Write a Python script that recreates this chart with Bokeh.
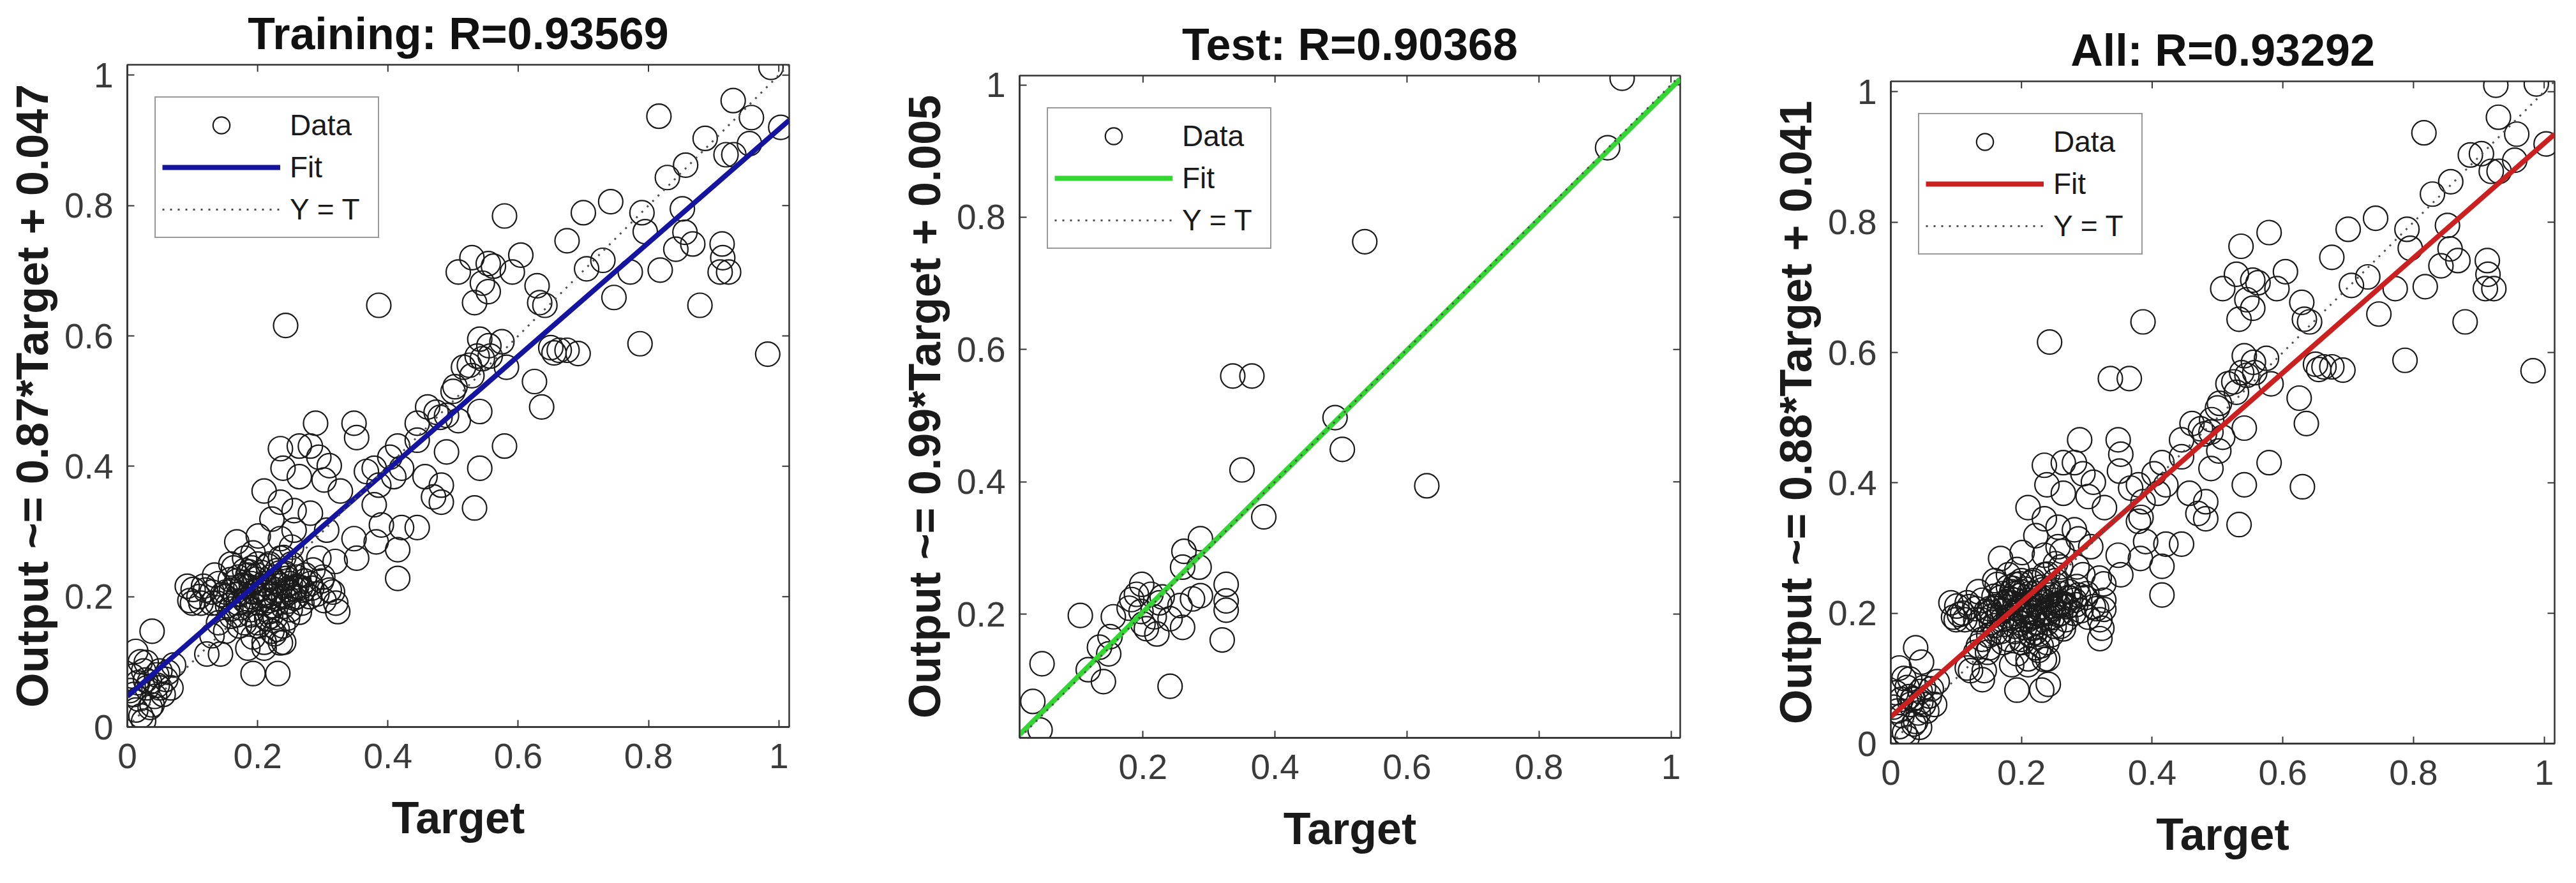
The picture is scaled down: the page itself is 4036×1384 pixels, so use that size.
import math
from bokeh.plotting import figure
from bokeh.models import (Range1d, FixedTicker, CustomJSTickFormatter,
                          Legend, LegendItem, Spacer)
from bokeh.layouts import row, column
from bokeh.embed import file_html
from bokeh.resources import INLINE

# ---------------- data ----------------
train_target = [
    0.988, 0.930, 0.958, 1.003, 0.816, 0.887, 0.919, 0.931, 0.955, 0.857,
    0.829, 0.742, 0.790, 0.700, 0.852, 0.579, 0.795, 0.856, 0.913, 0.868,
    0.675, 0.842, 0.818, 0.772, 0.730, 0.705, 0.914, 0.923, 0.910, 0.747,
    0.879, 0.787, 0.983, 0.604, 0.529, 0.554, 0.562, 0.508, 0.591, 0.533,
    0.545, 0.554, 0.629, 0.633, 0.641, 0.386, 0.243, 0.541, 0.575, 0.650,
    0.663, 0.675, 0.692, 0.655, 0.537, 0.557, 0.582, 0.516, 0.529, 0.625,
    0.503, 0.636, 0.541, 0.461, 0.474, 0.490, 0.508, 0.445, 0.579, 0.490,
    0.541, 0.533, 0.482, 0.470, 0.482, 0.457, 0.445, 0.415, 0.403, 0.421,
    0.409, 0.379, 0.367, 0.386, 0.379, 0.390, 0.421, 0.445, 0.415, 0.382,
    0.415, 0.352, 0.348, 0.319, 0.348, 0.352, 0.289, 0.281, 0.294, 0.310,
    0.302, 0.264, 0.235, 0.239, 0.264, 0.210, 0.235, 0.256, 0.281, 0.306,
    0.327, 0.315, 0.323, 0.302, 0.013, 0.038, 0.004, 0.025, 0.017, 0.021,
    0.013, 0.034, 0.050, 0.050, 0.067, 0.071, 0.029, 0.042, 0.008, 0.059,
    0.038, 0.025, 0.010, 0.030, 0.045, 0.055, 0.020, 0.035, 0.101, 0.096,
    0.117, 0.122, 0.143, 0.151, 0.168, 0.185, 0.193, 0.231, 0.235, 0.222,
    0.201, 0.218, 0.151, 0.168, 0.159, 0.180, 0.168, 0.193, 0.201, 0.218,
    0.235, 0.243, 0.260, 0.273, 0.281, 0.256, 0.268, 0.227, 0.210, 0.193,
    0.180, 0.201, 0.218, 0.239, 0.134, 0.138, 0.130, 0.159, 0.172, 0.193,
    0.210, 0.239, 0.252, 0.256, 0.235, 0.222, 0.252, 0.285, 0.298, 0.294,
    0.113, 0.092, 0.185, 0.206, 0.231, 0.189, 0.227, 0.176, 0.247, 0.160,
    0.170, 0.190, 0.200, 0.210, 0.220, 0.230, 0.240, 0.250, 0.260, 0.180,
    0.190, 0.200, 0.220, 0.230, 0.240, 0.210, 0.170, 0.150, 0.140, 0.260,
    0.270, 0.280, 0.250, 0.190, 0.220, 0.200, 0.180, 0.160, 0.230, 0.240,
    0.210, 0.110, 0.120, 0.100, 0.130, 0.310, 0.320, 0.300, 0.130, 0.140,
    0.525, 0.545, 0.555, 0.500, 0.480, 0.166, 0.177, 0.184, 0.197, 0.204,
    0.213, 0.226, 0.236, 0.244, 0.257, 0.173, 0.187, 0.194, 0.208, 0.216,
    0.224, 0.233, 0.247, 0.253, 0.266, 0.158, 0.171, 0.182, 0.191, 0.199,
    0.211, 0.219, 0.229, 0.242, 0.249, 0.272, 0.283, 0.291, 0.154, 0.146,
    0.163, 0.214, 0.226, 0.246, 0.264, 0.028, 0.046, 0.016, 0.062,
]
train_output = [
    1.012, 0.961, 0.935, 0.920, 0.937, 0.903, 0.878, 0.878, 0.895, 0.862,
    0.843, 0.806, 0.789, 0.789, 0.795, 0.784, 0.760, 0.759, 0.741, 0.741,
    0.746, 0.733, 0.701, 0.698, 0.716, 0.703, 0.720, 0.698, 0.698, 0.659,
    0.647, 0.588, 0.572, 0.724, 0.720, 0.711, 0.707, 0.698, 0.698, 0.651,
    0.681, 0.668, 0.677, 0.651, 0.647, 0.647, 0.616, 0.595, 0.591, 0.582,
    0.578, 0.578, 0.573, 0.574, 0.569, 0.569, 0.552, 0.552, 0.539, 0.530,
    0.522, 0.491, 0.484, 0.491, 0.483, 0.478, 0.470, 0.466, 0.431, 0.422,
    0.397, 0.336, 0.371, 0.353, 0.345, 0.384, 0.440, 0.431, 0.414, 0.397,
    0.384, 0.397, 0.392, 0.371, 0.341, 0.310, 0.306, 0.306, 0.272, 0.284,
    0.228, 0.259, 0.289, 0.254, 0.466, 0.444, 0.466, 0.431, 0.414, 0.401,
    0.379, 0.431, 0.427, 0.397, 0.384, 0.362, 0.345, 0.332, 0.328, 0.302,
    0.362, 0.207, 0.177, 0.194, 0.116, 0.147, 0.056, 0.086, 0.043, 0.017,
    0.026, 0.069, 0.086, 0.060, 0.060, 0.095, 0.099, 0.047, 0.078, 0.073,
    0.034, 0.009, 0.050, 0.060, 0.080, 0.050, 0.100, 0.030, 0.211, 0.194,
    0.216, 0.112, 0.112, 0.147, 0.172, 0.121, 0.082, 0.082, 0.129, 0.147,
    0.155, 0.177, 0.207, 0.224, 0.250, 0.259, 0.284, 0.267, 0.293, 0.250,
    0.259, 0.233, 0.216, 0.233, 0.220, 0.198, 0.190, 0.207, 0.220, 0.207,
    0.194, 0.190, 0.194, 0.185, 0.233, 0.190, 0.207, 0.181, 0.155, 0.138,
    0.121, 0.155, 0.250, 0.302, 0.289, 0.319, 0.276, 0.241, 0.224, 0.259,
    0.190, 0.216, 0.233, 0.237, 0.220, 0.172, 0.168, 0.216, 0.211, 0.210,
    0.190, 0.220, 0.210, 0.190, 0.230, 0.210, 0.200, 0.220, 0.230, 0.240,
    0.180, 0.250, 0.170, 0.240, 0.260, 0.220, 0.230, 0.200, 0.220, 0.200,
    0.210, 0.200, 0.180, 0.200, 0.200, 0.160, 0.160, 0.170, 0.150, 0.130,
    0.130, 0.200, 0.210, 0.190, 0.190, 0.210, 0.190, 0.230, 0.140, 0.160,
    0.555, 0.565, 0.585, 0.515, 0.475, 0.203, 0.218, 0.192, 0.227, 0.213,
    0.206, 0.224, 0.217, 0.228, 0.212, 0.183, 0.238, 0.207, 0.196, 0.247,
    0.186, 0.236, 0.193, 0.243, 0.214, 0.226, 0.204, 0.216, 0.244, 0.233,
    0.202, 0.214, 0.197, 0.236, 0.207, 0.224, 0.213, 0.204, 0.186, 0.203,
    0.244, 0.166, 0.143, 0.167, 0.176, 0.072, 0.064, 0.068, 0.084,
]
test_target = [
    0.926, 0.904, 0.536, 0.336, 0.365, 0.491, 0.502, 0.350, 0.630, 0.383,
    0.287, 0.262, 0.285, 0.260, 0.326, 0.326, 0.326, 0.320, 0.287, 0.275,
    0.256, 0.260, 0.241, 0.225, 0.212, 0.198, 0.183, 0.197, 0.205, 0.217,
    0.229, 0.179, 0.155, 0.105, 0.150, 0.134, 0.148, 0.117, 0.140, 0.241,
    0.047, 0.033, 0.044, 0.221, 0.190, 0.200,
]
test_output = [
    1.010, 0.905, 0.763, 0.560, 0.560, 0.497, 0.449, 0.418, 0.394, 0.347,
    0.314, 0.295, 0.271, 0.271, 0.245, 0.220, 0.206, 0.161, 0.228, 0.223,
    0.213, 0.180, 0.193, 0.217, 0.230, 0.245, 0.222, 0.204, 0.178, 0.196,
    0.226, 0.209, 0.196, 0.198, 0.166, 0.150, 0.140, 0.116, 0.098, 0.091,
    0.125, 0.068, 0.025, 0.170, 0.230, 0.185,
]
# "All" = training + test
all_target = train_target + test_target
all_output = train_output + test_output

titles = ["Training: R=0.93569", "Test: R=0.90368", "All: R=0.93292"]
fit_slopes = [0.87, 0.99, 0.88]
fit_intercepts = [0.047, 0.005, 0.041]
y_labels = ["Output ~= 0.87*Target + 0.047",
            "Output ~= 0.99*Target + 0.005",
            "Output ~= 0.88*Target + 0.041"]
axis_limits = [(0.0, 1.016), (0.013, 1.014), (0.0, 1.016)]
fit_colors = ["#1414a0", "#33d633", "#cc1f1f"]
tick_values = [0, 0.2, 0.4, 0.6, 0.8, 1]
x_label = "Target"
legend_labels = ["Data", "Fit", "Y = T"]

FONT = "Liberation Sans"
AXIS_COLOR = "#333333"
TOP_BORDER = 99
BOTTOM_BORDER = 206


def make_panel(i, targets, outputs, border_left, border_right, fw, fh):
    lo, hi = axis_limits[i]
    p = figure(frame_width=fw, frame_height=fh,
               x_range=Range1d(lo, hi), y_range=Range1d(lo, hi),
               output_backend="svg", toolbar_location=None,
               min_border_left=border_left, min_border_right=border_right,
               min_border_top=TOP_BORDER, min_border_bottom=BOTTOM_BORDER)
    p.xgrid.visible = False
    p.ygrid.visible = False
    p.outline_line_color = AXIS_COLOR
    p.outline_line_width = 2.5
    p.background_fill_color = "white"
    p.border_fill_color = "white"

    fmt = "return String(Math.round(tick*10)/10)"
    xax = p.below[0]
    yax = p.left[0]
    for ax in (xax, yax):
        ax.ticker = FixedTicker(ticks=tick_values)
        ax.formatter = CustomJSTickFormatter(code=fmt)
        ax.major_tick_in = 11
        ax.major_tick_out = 0
        ax.minor_tick_line_color = None
        ax.major_tick_line_color = AXIS_COLOR
        ax.major_tick_line_width = 2
        ax.axis_line_color = AXIS_COLOR
        ax.axis_line_width = 2.5
        ax.major_label_text_font = FONT
        ax.major_label_text_font_size = "55px"
        ax.major_label_text_color = "#3a3a3a"
        ax.axis_label_text_font = FONT
        ax.axis_label_text_font_size = "70px"
        ax.axis_label_text_font_style = "bold"
        ax.axis_label_text_color = "#1a1a1a"
    xax.major_label_standoff = 26
    yax.major_label_standoff = 22
    xax.axis_label = x_label
    xax.axis_label_standoff = 36
    yax.axis_label = y_labels[i]
    yax.axis_label_standoff = 8

    # inward tick marks on the top and right edges of the box
    inner = [t for t in tick_values if lo <= t <= hi]
    p.ray(x=inner, y=[hi] * len(inner), length=11, length_units="screen",
          angle=-math.pi / 2, line_color=AXIS_COLOR, line_width=2)
    p.ray(x=[hi] * len(inner), y=inner, length=11, length_units="screen",
          angle=math.pi, line_color=AXIS_COLOR, line_width=2)

    p.title.text = titles[i]
    p.title.align = "center"
    p.title.text_font = FONT
    p.title.text_font_size = "70px"
    p.title.text_font_style = "bold"
    p.title.text_color = "#111111"
    p.title.standoff = 20

    data_r = p.scatter(targets, outputs, marker="circle", size=38,
                       fill_color=None, line_color="#1a1a1a", line_width=2.2)
    s, b = fit_slopes[i], fit_intercepts[i]
    fit_r = p.line([lo, hi], [s * lo + b, s * hi + b], line_color=fit_colors[i],
                   line_width=8)
    yt_r = p.line([lo, hi], [lo, hi], line_color="#505050", line_width=3,
                  line_dash="3 9")

    legend = Legend(items=[LegendItem(label=legend_labels[0], renderers=[data_r]),
                           LegendItem(label=legend_labels[1], renderers=[fit_r]),
                           LegendItem(label=legend_labels[2], renderers=[yt_r])],
                    location=(43, fh - 50 - 222),
                    padding=10, spacing=0, margin=0,
                    glyph_width=185, glyph_height=66, label_height=66,
                    label_standoff=15, label_width=128,
                    label_text_font=FONT, label_text_font_size="46px",
                    label_text_color="#1a1a1a",
                    border_line_color=AXIS_COLOR, border_line_width=2.5,
                    background_fill_color="white", background_fill_alpha=1.0)
    p.add_layout(legend, "center")
    return p


p1 = make_panel(0, train_target, train_output, 199, 101, 1037, 1038)
p2 = make_panel(1, test_target, test_output, 260, 50, 1035, 1038)
p3 = make_panel(2, all_target, all_output, 280, 18, 1040, 1038)

# vertical offsets of the three panels (frames sit at 108, 125 and 134 px)
layout = row(column(Spacer(width=1337, height=1), p1),
             column(Spacer(width=1345, height=18), p2),
             column(Spacer(width=1338, height=27), p3))
open("out.html", "w").write(file_html(layout, INLINE))
